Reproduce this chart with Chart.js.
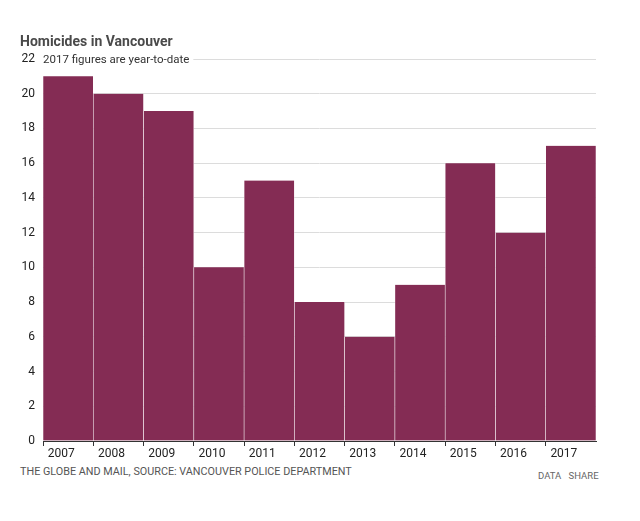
<!DOCTYPE html>
<html>
<head>
<meta charset="utf-8">
<script src="https://cdn.jsdelivr.net/npm/chart.js@4"></script>
<style>
  body { margin: 0; background: #fff; width: 640px; height: 521px; position: relative; overflow: hidden; }
  #title { position: absolute; left: 20px; top: 33px; font: bold 14px "Roboto", sans-serif; color: #4a4a4a; }
  #wrap { position: absolute; left: 0; top: 0; width: 640px; height: 460px; }
  #source { position: absolute; left: 20px; top: 465px; font: 10.8px "Roboto", sans-serif; color: #555; }
  #links { position: absolute; left: 538px; top: 470px; font: 9.5px "Roboto", sans-serif; color: #666; word-spacing: 5px; }
</style>
</head>
<body>
<div id="wrap"><canvas id="chart"></canvas></div>
<div id="title">Homicides in Vancouver</div>
<div id="source">THE GLOBE AND MAIL, SOURCE: VANCOUVER POLICE DEPARTMENT</div>
<div id="links">DATA SHARE</div>
<script>
var years = ['2007', '2008', '2009', '2010', '2011', '2012', '2013', '2014', '2015', '2016', '2017'];
var homicides = [21, 20, 19, 10, 15, 8, 6, 9, 16, 12, 17];
var yMax = 22;
var yStep = 2;
var note = '2017 figures are year-to-date';

// draws the note over the top gridline, the way the original does
var notePlugin = {
    id: 'note',
    afterDraw(chart) {
        var ctx = chart.ctx;
        var y = chart.scales.y.getPixelForValue(yMax);
        ctx.save();
        ctx.font = '11.5px Roboto, sans-serif';
        var w = ctx.measureText(note).width;
        ctx.fillStyle = '#fff';
        ctx.fillRect(chart.chartArea.left - 1, y - 8, w + 5, 16);
        ctx.fillStyle = '#333';
        ctx.textBaseline = 'middle';
        ctx.fillText(note, chart.chartArea.left, y + 1);
        ctx.restore();
    }
};

new Chart(document.getElementById('chart'), {
    type: 'bar',
    data: {
        labels: years,
        datasets: [{
            data: homicides,
            backgroundColor: '#842c54',
            borderColor: 'rgba(255,255,255,0.65)',
            borderWidth: { left: 0.6, right: 0.6, top: 0, bottom: 0 },
            borderSkipped: false,
            barPercentage: 1,
            categoryPercentage: 1
        }]
    },
    options: {
        responsive: true,
        maintainAspectRatio: false,
        animation: false,
        layout: { padding: { left: 0, right: 44, top: 59, bottom: 0 } },
        plugins: { legend: { display: false }, tooltip: { enabled: false } },
        scales: {
            x: {
                afterFit(scale) { scale.height = 19; },
                border: { display: true, color: '#333', width: 1 },
                grid: {
                    offset: true,
                    drawOnChartArea: false,
                    tickLength: 5,
                    // no tick mark at the right end of the axis
                    color: function (c) { return c.type === 'tick' ? '#333' : 'rgba(0,0,0,0)'; }
                },
                ticks: {
                    labelOffset: -7,
                    padding: 1,
                    maxRotation: 0,
                    autoSkip: false,
                    color: '#222',
                    font: { family: 'Roboto', size: 12 }
                }
            },
            y: {
                min: 0,
                max: yMax,
                afterFit(scale) { scale.width = 43; },
                border: { display: false },
                grid: { color: '#dcdcdc', drawTicks: false },
                ticks: {
                    stepSize: yStep,
                    padding: 8,
                    color: '#222',
                    font: { family: 'Roboto', size: 12 }
                }
            }
        }
    },
    plugins: [notePlugin]
});
</script>
</body>
</html>
